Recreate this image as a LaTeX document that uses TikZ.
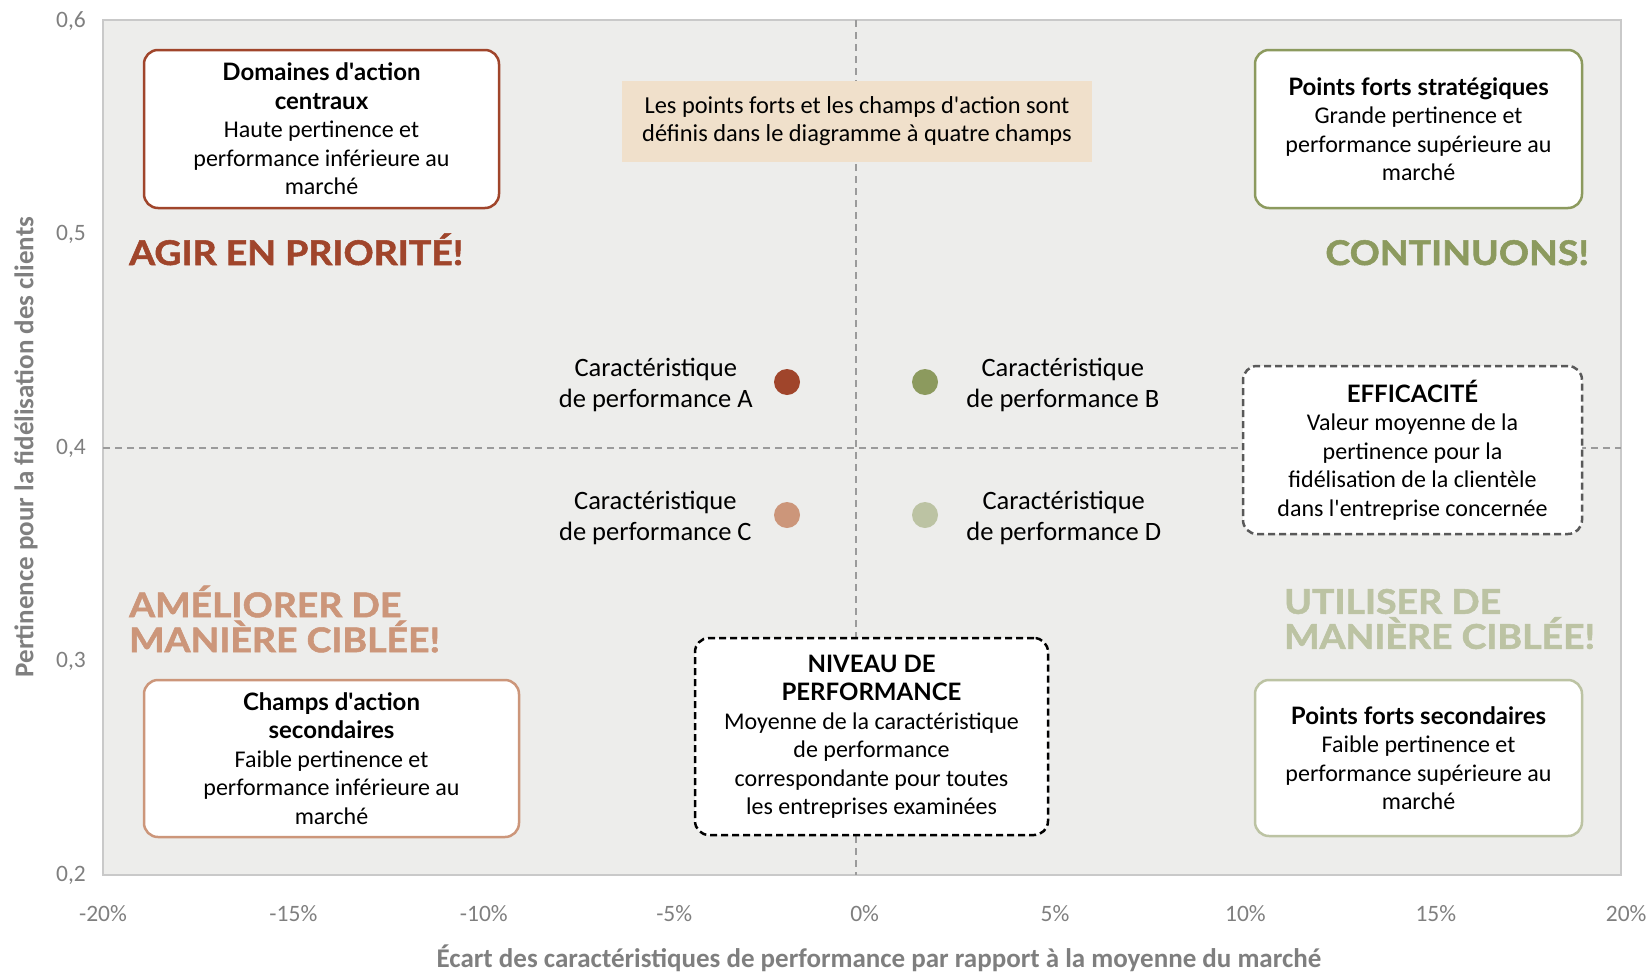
\documentclass[tikz,border=0pt]{standalone}
\usepackage{fontspec}
\setmainfont{Carlito}
\newfontfamily\titlefont{Lato}
\newfontfamily\headfont{Lato}[BoldFeatures={FakeBold=1.5}]
\usetikzlibrary{positioning}
\definecolor{rust}{HTML}{A0452B}
\definecolor{olive}{HTML}{8C9A5E}
\definecolor{salmon}{HTML}{CC967A}
\definecolor{sage}{HTML}{BCC3A3}
\definecolor{plotbg}{HTML}{EDEDEB}
\definecolor{plotframe}{HTML}{C9C9C9}
\definecolor{guide}{HTML}{9B9B9B}
\definecolor{axistext}{HTML}{7F7F7F}
\definecolor{beige}{HTML}{F0E0CB}
\newcommand\boxtitle[1]{{\titlefont\bfseries #1}}
\newcommand\apos{\textquotesingle}
\newcommand\wide[1]{\scalebox{1.1}[1]{#1}}
\tikzset{
  fieldbox/.style={draw, fill=white, line width=2.5pt, rounded corners=14pt,
    align=center, inner sep=0pt, font=\fontsize{24}{28.5}\selectfont},
  notebox/.style={fieldbox, dash pattern=on 7pt off 4pt},
  heading/.style={inner sep=0pt, align=left, font=\headfont\bfseries\fontsize{34}{35}\selectfont},
  dot/.style={circle, inner sep=0pt, minimum size=26pt},
  ptlabel/.style={inner sep=0pt, align=center, font=\fontsize{26.5}{31}\selectfont, yshift=-3pt},
  ticklabel/.style={inner sep=0pt, text=axistext, font=\fontsize{23.5}{27}\selectfont},
  axistitle/.style={inner sep=0pt, text=axistext, font=\bfseries\fontsize{27}{30}\selectfont}
}
\begin{document}
\begin{tikzpicture}[x=1pt, y=-1pt]
    \useasboundingbox (0,0) rectangle (1649,972);
    \draw[plotframe, fill=plotbg, line width=2pt] (103,20) rectangle (1621,875);
    % guide lines through the middle of the plot
    \coordinate (vtop) at (856,20);
    \coordinate (vbot) at (856,875);
    \coordinate (hleft) at (103,448);
    \coordinate (hright) at (1621,448);
    \draw[guide, line width=2pt, dash pattern=on 7pt off 5pt] (vtop) -- (vbot);
    \draw[guide, line width=2pt, dash pattern=on 7pt off 5pt] (hleft) -- (hright);

    \node[fieldbox, draw=rust, minimum width=355pt, minimum height=158pt] (central) at (321.5,129)
        {\boxtitle{Domaines d\apos action}\\\boxtitle{centraux}\\Haute pertinence et\\performance inférieure au\\marché};
    \node[fieldbox, draw=olive, minimum width=327pt, minimum height=158pt] (strategic) at (1418.5,129)
        {\boxtitle{Points forts stratégiques}\\Grande pertinence et\\performance supérieure au\\marché};
    \node[fieldbox, draw=salmon, minimum width=375pt, minimum height=157pt] (secondfield) at (331.5,758.5)
        {\boxtitle{Champs d\apos action}\\\boxtitle{secondaires}\\Faible pertinence et\\performance inférieure au\\marché};
    \node[fieldbox, draw=sage, minimum width=327pt, minimum height=156pt] (secondstrong) at (1418.5,758)
        {\boxtitle{Points forts secondaires}\\Faible pertinence et\\performance supérieure au\\marché};
    \node[notebox, draw=black, minimum width=353pt, minimum height=197pt] (level) at (871.5,736.5)
        {\boxtitle{NIVEAU DE}\\\boxtitle{PERFORMANCE}\\Moyenne de la caractéristique\\de performance\\correspondante pour toutes\\les entreprises examinées};
    \node[notebox, draw=black!65, minimum width=339pt, minimum height=168pt] (efficiency) at (1412.5,450)
        {\boxtitle{EFFICACITÉ}\\Valeur moyenne de la\\pertinence pour la\\fidélisation de la clientèle\\dans l\apos entreprise concernée};
    \node[fill=beige, align=center, inner sep=0pt, minimum width=470pt, minimum height=81pt,
        font=\fontsize{24.4}{28}\selectfont] (intro) at (857,121.5)
        {Les points forts et les champs d\apos action sont\\définis dans le diagramme à quatre champs};

    \node[heading, text=rust, anchor=base west] (act) at (129,265) {\wide{AGIR EN PRIORITÉ!}};
    \node[heading, text=olive, anchor=base east] (keep) at (1589,265) {\wide{CONTINUONS!}};
    \node[heading, text=salmon, anchor=west] (improve) at (129,619) {\wide{AMÉLIORER DE}\\\wide{MANIÈRE CIBLÉE!}};
    \node[heading, text=sage, anchor=west] (use) at (1284,619) {\wide{UTILISER DE}\\\wide{MANIÈRE CIBLÉE!}};

    \node[dot, fill=rust] (ptA) at (787,382) {};
    \node[dot, fill=olive] (ptB) at (925,382) {};
    \node[dot, fill=salmon] (ptC) at (787,515) {};
    \node[dot, fill=sage] (ptD) at (925,515) {};
    \node[ptlabel, left=21pt of ptA] (labA) {Caractéristique\\de performance A};
    \node[ptlabel, right=28pt of ptB] (labB) {Caractéristique\\de performance B};
    \node[ptlabel, left=22pt of ptC] (labC) {Caractéristique\\de performance C};
    \node[ptlabel, right=28pt of ptD] (labD) {Caractéristique\\de performance D};

    \foreach \v [count=\i from 0] in {6,5,4,3,2}
        \node[ticklabel, anchor=east] (ytick\v) at (86,21+213.5*\i) {0,\v};
    \foreach \p [count=\i from 0] in {-20,-15,-10,-5,0,5,10,15,20}
        \node[ticklabel] (xtick\i) at (103+190.4*\i,914) {\p\%};
    \node[axistitle, rotate=90] (ytitle) at (26,447) {Pertinence pour la fidélisation des clients};
    \node[axistitle] (xtitle) at (879,958) {Écart des caractéristiques de performance par rapport à la moyenne du marché};
\end{tikzpicture}
\end{document}
